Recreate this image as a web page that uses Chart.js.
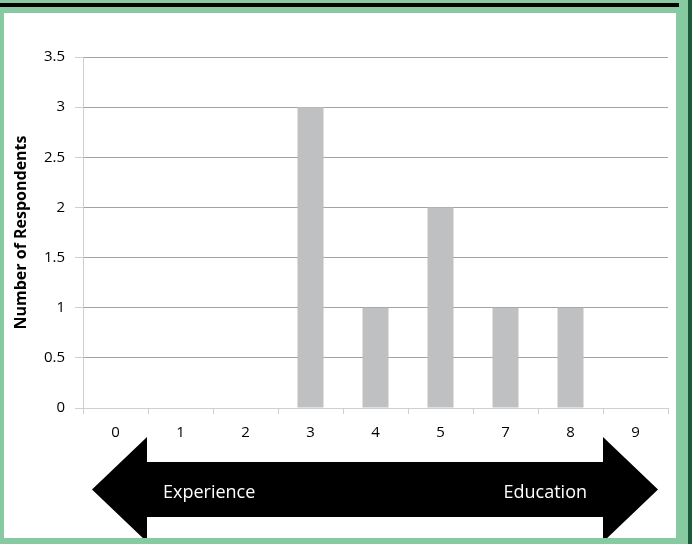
<!DOCTYPE html>
<html>
<head>
<meta charset="utf-8">
<script src="https://cdn.jsdelivr.net/npm/chart.js@4.4.1/dist/chart.umd.min.js"></script>
<style>
  html, body { margin: 0; padding: 0; }
  body { width: 692px; height: 544px; background: #87c9a1; position: relative; overflow: hidden; }
  #topbar { position: absolute; left: 0; top: 3px; width: 679px; height: 4px; background: #000; }
  #edge { position: absolute; right: 0; top: 0; width: 4px; height: 544px; background: #1d5a3c; }
  #panel { position: absolute; left: 4px; top: 13px; width: 672px; height: 525px; background: #fff; overflow: hidden; }
  #panel canvas { position: absolute; left: -4px; top: -13px; }
</style>
</head>
<body>
<div id="topbar"></div>
<div id="edge"></div>
<div id="panel"><canvas id="chart" width="692" height="544"></canvas></div>
<script>
// categories along the bottom and respondent counts
const categories = ["0", "1", "2", "3", "4", "5", "7", "8", "9"];
const respondents = [0, 0, 0, 3, 1, 2, 1, 1, 0];
const yTicks = [0, 0.5, 1, 1.5, 2, 2.5, 3, 3.5];
const arrowLabels = ["Experience", "Education"];

const FONT = "'Open Sans', 'DejaVu Sans', sans-serif";

// double-headed arrow under the x axis
const arrowPlugin = {
    id: 'arrow',
    afterDraw(chart) {
        const ctx = chart.ctx;
        const x = chart.scales.x;
        const leftBase = (x.getPixelForValue(0) + x.getPixelForValue(1)) / 2 - 1;
        const rightBase = (x.getPixelForValue(7) + x.getPixelForValue(8)) / 2;
        const cy = 489.5, shaft = 27.5, head = 52.5, headLen = 55;
        ctx.save();
        ctx.fillStyle = '#000';
        ctx.beginPath();
        ctx.moveTo(leftBase - headLen, cy);
        ctx.lineTo(leftBase, cy - head);
        ctx.lineTo(leftBase, cy - shaft);
        ctx.lineTo(rightBase, cy - shaft);
        ctx.lineTo(rightBase, cy - head);
        ctx.lineTo(rightBase + headLen, cy);
        ctx.lineTo(rightBase, cy + head);
        ctx.lineTo(rightBase, cy + shaft);
        ctx.lineTo(leftBase, cy + shaft);
        ctx.lineTo(leftBase, cy + head);
        ctx.closePath();
        ctx.fill();
        ctx.fillStyle = '#fff';
        ctx.font = '18px ' + FONT;
        ctx.textBaseline = 'middle';
        ctx.textAlign = 'left';
        ctx.fillText(arrowLabels[0], leftBase + 16, cy + 3);
        ctx.textAlign = 'right';
        ctx.fillText(arrowLabels[1], rightBase - 16, cy + 3);
        ctx.restore();
    }
};

const ctx = document.getElementById('chart').getContext('2d');
new Chart(ctx, {
    type: 'bar',
    data: {
        labels: categories,
        datasets: [{
            label: 'Number of Respondents',
            data: respondents,
            backgroundColor: '#bfc0c2',
            borderWidth: 0,
            barPercentage: 0.4,
            categoryPercentage: 1
        }]
    },
    options: {
        responsive: false,
        animation: false,
        layout: { padding: { left: 10, top: 57, right: 24, bottom: 0 } },
        plugins: {
            legend: { display: false },
            tooltip: { enabled: false }
        },
        scales: {
            x: {
                offset: true,
                grid: {
                    offset: true,
                    drawOnChartArea: false,
                    drawTicks: true,
                    tickLength: 6,
                    tickColor: '#cfcfcf'
                },
                border: { color: '#cfcfcf' },
                ticks: { font: { family: FONT, size: 15 }, color: '#000', padding: 10 },
                afterFit(scale) { scale.height = 136; }
            },
            y: {
                min: 0,
                max: 3.5,
                afterBuildTicks(scale) { scale.ticks = yTicks.map(v => ({ value: v })); },
                grid: {
                    color: c => (c.tick && c.tick.value === 0) ? '#cfcfcf' : '#a3a3a3',
                    tickColor: '#cfcfcf',
                    tickLength: 8
                },
                border: { color: '#cfcfcf' },
                ticks: {
                    font: { family: FONT, size: 15 },
                    color: '#000',
                    padding: 10,
                    callback: v => String(v)
                },
                title: {
                    display: true,
                    text: 'Number of Respondents',
                    color: '#000',
                    font: { family: FONT, size: 16, weight: 'bold' },
                    padding: { top: 2, bottom: 0 }
                },
                afterFit(scale) { scale.width = 73; }
            }
        }
    },
    plugins: [arrowPlugin]
});
</script>
</body>
</html>
